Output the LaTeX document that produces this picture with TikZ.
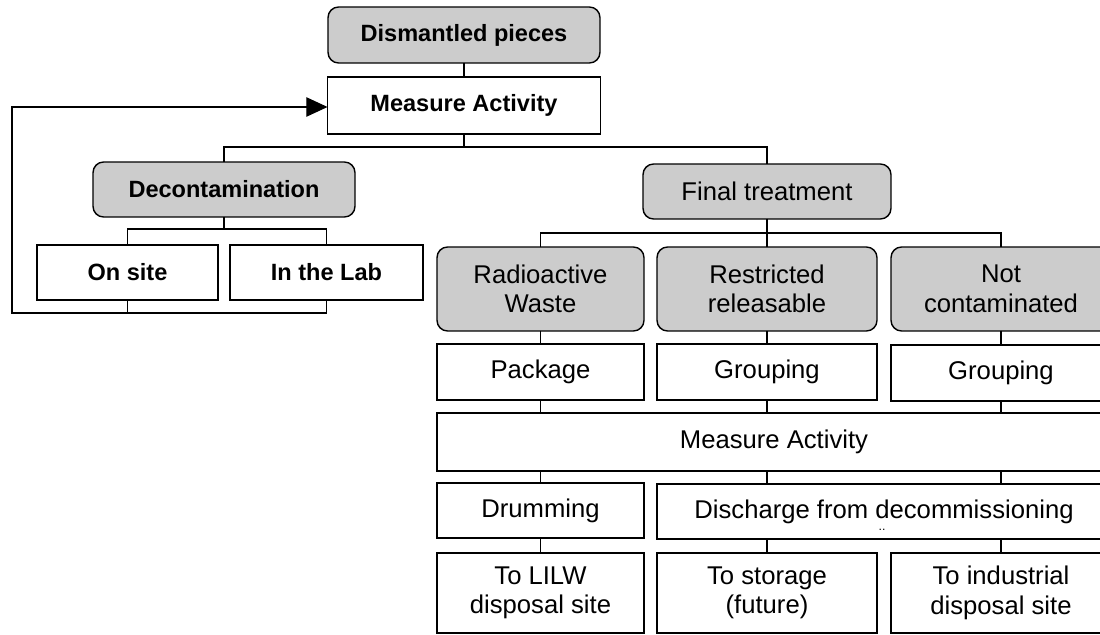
\documentclass[tikz,border=0pt]{standalone}
\usepackage{fontspec}
\setmainfont{Liberation Sans}
\usetikzlibrary{arrows.meta}

\tikzset{
  txt/.style={font=\fontsize{14.6}{16.8}\selectfont},
  boldtxt/.style={font=\fontsize{13.4}{16}\selectfont\bfseries},
  grp/.style={draw, rounded corners=6pt, fill=black!20, line width=0.8pt,
    inner sep=0pt, outer sep=0pt, align=center},
  stepbox/.style={draw, fill=white, line width=0.8pt, inner sep=0pt,
    outer sep=0pt, align=center},
  link/.style={line width=0.6pt}
}

\begin{document}
\begin{tikzpicture}[x=0.02cm, y=-0.02cm]
\useasboundingbox (0,0) rectangle (1100,635);

% Upper part
\node[grp, boldtxt, minimum width=5.44cm, minimum height=1.12cm] (dism) at (464,35) {Dismantled pieces};
\node[stepbox, boldtxt, minimum width=5.46cm, minimum height=1.14cm] (meas1) at (464,105.5) {Measure Activity};
\node[grp, boldtxt, minimum width=5.24cm, minimum height=1.10cm] (decon) at (224,189.5) {Decontamination};
\node[grp, txt, minimum width=4.96cm, minimum height=1.10cm] (final) at (767,191.5) {Final treatment};
\node[stepbox, boldtxt, minimum width=3.62cm, minimum height=1.10cm] (onsite) at (127.5,272.5) {On site};
\node[stepbox, boldtxt, minimum width=3.86cm, minimum height=1.10cm] (lab) at (326.5,272.5) {In the Lab};

% Waste categories
\node[grp, txt, minimum width=4.14cm, minimum height=1.68cm] (rad) at (540.5,289) {Radioactive\\Waste};
\node[grp, txt, minimum width=4.40cm, minimum height=1.68cm] (restr) at (767,289) {Restricted\\releasable};
\node[grp, txt, minimum width=4.40cm, minimum height=1.68cm] (notc) at (1001,289) {Not\\contaminated};

\node[stepbox, txt, minimum width=4.14cm, minimum height=1.12cm] (pack) at (540.5,372) {Package};
\node[stepbox, txt, minimum width=4.40cm, minimum height=1.12cm] (grpa) at (767,372) {Grouping};
\node[stepbox, txt, minimum width=4.40cm, minimum height=1.12cm] (grpb) at (1001,373) {Grouping};

\node[stepbox, txt, minimum width=13.48cm, minimum height=1.16cm] (meas2) at (774,442) {Measure Activity};

\node[stepbox, txt, minimum width=4.14cm, minimum height=1.10cm] (drum) at (540.5,510.5) {Drumming};
\node[stepbox, txt, minimum width=9.08cm, minimum height=1.10cm] (disc) at (884,511.5) {Discharge from decommissioning};
\node[font=\scriptsize, inner sep=0pt] (dots) at (882,530) {..};

% Destinations
\node[stepbox, txt, minimum width=4.14cm, minimum height=1.60cm] (lilw) at (540.5,593) {To LILW\\disposal site};
\node[stepbox, txt, minimum width=4.40cm, minimum height=1.60cm] (stor) at (767,593) {To storage\\(future)};
\node[stepbox, txt, minimum width=4.40cm, minimum height=1.60cm] (indu) at (1001,593) {To industrial\\disposal site};

% Tree links
\draw[link] (dism.south) -- (meas1.north);
\draw[link] (meas1.south) -- ++(0,13) coordinate (m1b);
\draw[link] (decon.north) |- (m1b) -| (final.north);
\draw[link] (decon.south) -- ++(0,12) coordinate (dcb);
\draw[link] (onsite.north) |- (dcb) -| (lab.north);
\draw[link] (final.south) -- ++(0,14) coordinate (ftb);
\draw[link] (rad.north) |- (ftb) -| (notc.north);
\draw[link] (ftb) -- (restr.north);

% Back to measurement
\coordinate (cornerbl) at (12,313);
\coordinate (cornertl) at (12,107);
\draw[link] (onsite.south) -- (onsite.south |- cornerbl);
\draw[link, -{Triangle[length=12pt, width=11pt]}] (lab.south) -- (lab.south |- cornerbl) -- (cornerbl) -- (cornertl) -- (cornertl -| meas1.west);

% Columns
\draw[link] (rad.south) -- (pack.north);
\draw[link] (restr.south) -- (grpa.north);
\draw[link] (notc.south) -- (grpb.north);
\draw[link] (pack.south) -- (pack.south |- meas2.north);
\draw[link] (grpa.south) -- (grpa.south |- meas2.north);
\draw[link] (grpb.south) -- (grpb.south |- meas2.north);
\draw[link] (drum.north |- meas2.south) -- (drum.north);
\draw[link] (grpa.south |- meas2.south) -- (grpa.south |- disc.north);
\draw[link] (grpb.south |- meas2.south) -- (grpb.south |- disc.north);
\draw[link] (drum.south) -- (lilw.north);
\draw[link] (stor.north |- disc.south) -- (stor.north);
\draw[link] (indu.north |- disc.south) -- (indu.north);
\end{tikzpicture}
\end{document}
